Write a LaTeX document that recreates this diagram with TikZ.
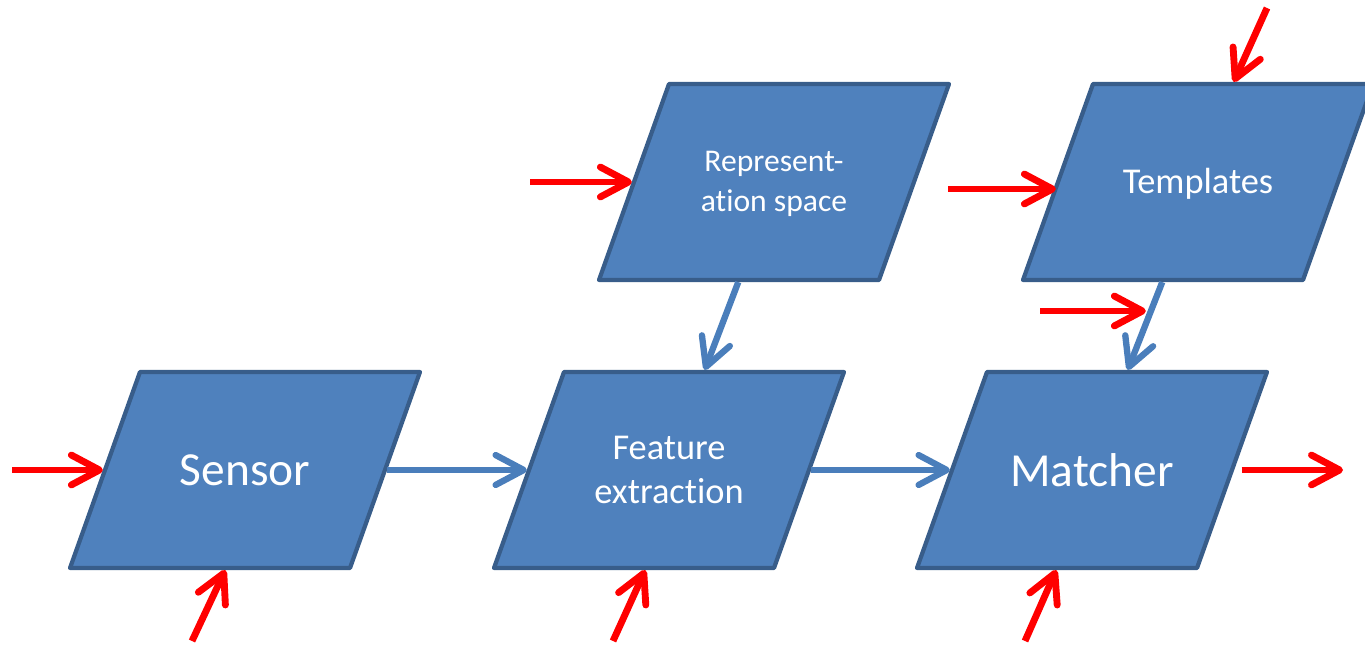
\documentclass[tikz,border=0pt]{standalone}
\usepackage{fontspec}
\setmainfont{Carlito}[Ligatures=NoCommon]
\usetikzlibrary{arrows.meta}
\definecolor{boxfill}{HTML}{4F81BD}
\definecolor{boxline}{HTML}{385D8A}
\definecolor{flowblue}{HTML}{4A7EBB}

\begin{document}
\begin{tikzpicture}[block_node/.style={rectangle,xslant=0.357,minimum width=5.6cm,minimum height=3.92cm,
    fill=boxfill,draw=boxline,line width=2.4pt,line join=round},
  block_text/.style={text=white,align=center},
  big_text/.style={font=\fontsize{27}{32}\selectfont},
  mid_text/.style={font=\fontsize{20.7}{25.5}\selectfont},
  small_text/.style={font=\fontsize{18}{22.5}\selectfont},
  blue_arrow/.style={draw=flowblue,line width=3.6pt,-{Straight Barb[round,length=16pt,width=17pt]}},
  red_arrow/.style={draw=red,line width=3.9pt,-{Straight Barb[round,length=16pt,width=17pt]}}]

    \useasboundingbox (0,0) rectangle (27.3,12.9);

    \node[block_node] (sensor) at (4.90,3.50) {};
    \node[block_node] (feature) at (13.38,3.50) {};
    \node[block_node] (matcher) at (21.84,3.50) {};
    \node[block_node] (rep) at (15.48,9.26) {};
    \node[block_node] (tmpl) at (23.96,9.26) {};

    \node[block_text,big_text] (sensor_text) at (sensor) {Sensor};
    \node[block_text,mid_text] (feature_text) at (feature) {Feature\\extraction};
    \node[block_text,big_text] (matcher_text) at (matcher) {Matcher};
    \node[block_text,small_text] (rep_text) at ([yshift=-0.04cm]rep) {Represent-\\ation space};
    \node[block_text,mid_text] (tmpl_text) at ([yshift=-0.04cm]tmpl) {Templates};

    % main flow
    \draw[blue_arrow] (sensor.east) -- (feature.west);
    \draw[blue_arrow] (feature.east) -- (matcher.west);
    \draw[blue_arrow] (rep.south) -- (feature.north);
    \draw[blue_arrow] (tmpl.south) -- coordinate[pos=0.33] (tm) (matcher.north);

    % attack points
    \coordinate (s_in) at (0.24,3.50);
    \coordinate (s_bot) at (3.84,0.08);
    \coordinate (f_bot) at (12.26,0.08);
    \coordinate (m_bot) at (20.50,0.08);
    \coordinate (m_out) at (26.86,3.50);
    \coordinate (r_in) at (10.60,9.26);
    \coordinate (t_in) at (18.96,9.12);
    \coordinate (t_top) at (25.34,12.74);
    \coordinate (tm_in) at (20.80,6.68);

    \draw[red_arrow] (s_in) -- (sensor.west);
    \draw[red_arrow] (s_bot) -- ([xshift=0.32cm]sensor.south);
    \draw[red_arrow] (f_bot) -- ([xshift=0.24cm]feature.south);
    \draw[red_arrow] (m_bot) -- (matcher.south);
    \draw[red_arrow,shorten <=0.15cm] (matcher.east) -- (m_out);
    \draw[red_arrow] (r_in) -- (rep.west);
    \draw[red_arrow] (t_in) -- ([yshift=-0.14cm]tmpl.west);
    \draw[red_arrow] (t_top) -- (tmpl.north);
    \draw[red_arrow,shorten >=0.1cm] (tm_in) -- (tm_in -| tm);
\end{tikzpicture}
\end{document}
